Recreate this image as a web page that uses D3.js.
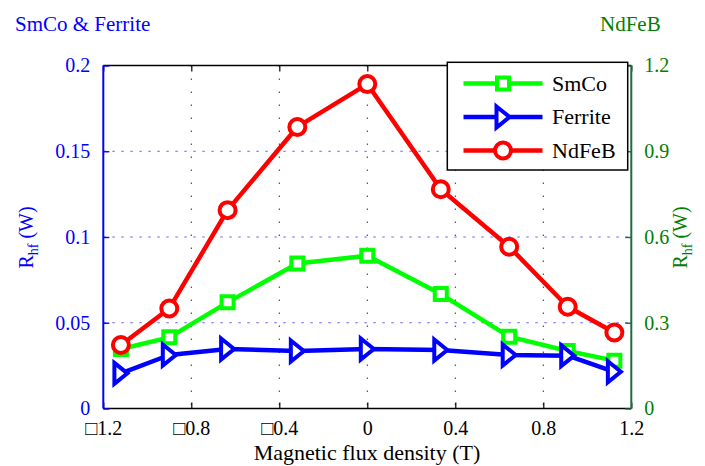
<!DOCTYPE html>
<html>
<head>
<meta charset="utf-8">
<script src="https://cdn.jsdelivr.net/npm/d3@7"></script>
<style>
  html, body { margin: 0; padding: 0; background: #fff; }
  svg text { font-family: "Liberation Serif", "DejaVu Serif", "Times New Roman", serif !important; }
</style>
</head>
<body>
<svg id="chart" width="705" height="466"></svg>
<script>
// Flux density sample points (T)
const fluxDensity = [-1.12, -0.9, -0.635, -0.318, 0, 0.334, 0.645, 0.911, 1.123];
// High-frequency resistance for each magnet type
const smco    = [0.0347, 0.0415, 0.0619, 0.0846, 0.0891, 0.0667, 0.0419, 0.0335, 0.0279];
const ferrite = [0.0205, 0.0312, 0.0347, 0.0335, 0.0347, 0.0341, 0.0312, 0.0308, 0.0214];
const ndfeb   = [0.222, 0.350, 0.694, 0.985, 1.135, 0.767, 0.566, 0.356, 0.266];

const xTicks = [-1.2, -0.8, -0.4, 0, 0.4, 0.8, 1.2];
const xTickLabels = ["\u25A11.2", "\u25A10.8", "\u25A10.4", "0", "0.4", "0.8", "1.2"];
const leftTicks = [0, 0.05, 0.1, 0.15, 0.2];
const leftTickLabels = ["0", "0.05", "0.1", "0.15", "0.2"];
const rightTicks = [0, 0.3, 0.6, 0.9, 1.2];
const rightTickLabels = ["0", "0.3", "0.6", "0.9", "1.2"];

const BLUE = "#0000ff", GREEN = "#008000", LIME = "#00ff00", RED = "#ff0000";

const svg = d3.select("#chart");
const L = 103.3, R = 631.3, T = 65.5, B = 408.5;

const x = d3.scaleLinear().domain([-1.2, 1.2]).range([L, R]);
const yL = d3.scaleLinear().domain([0, 0.2]).range([B, T]);
const yR = d3.scaleLinear().domain([0, 1.2]).range([B, T]);

// grid
const grid = svg.append("g");
grid.selectAll("line.vg").data(xTicks.slice(1, -1)).join("line")
  .attr("x1", d => x(d)).attr("x2", d => x(d)).attr("y1", T).attr("y2", B)
  .attr("stroke", "#000").attr("stroke-opacity", 0.8).attr("stroke-width", 1).attr("stroke-dasharray", "1.5,11.5");
grid.selectAll("line.hg").data(leftTicks.slice(1, -1)).join("line")
  .attr("x1", L).attr("x2", R).attr("y1", d => yL(d)).attr("y2", d => yL(d))
  .attr("stroke", BLUE).attr("stroke-opacity", 0.6).attr("stroke-width", 1).attr("stroke-dasharray", "2.5,6.5");

// frame
svg.append("line").attr("x1", L).attr("x2", R).attr("y1", T).attr("y2", T).attr("stroke", "#000").attr("stroke-width", 1.6);
svg.append("line").attr("x1", L).attr("x2", R).attr("y1", B).attr("y2", B).attr("stroke", "#000").attr("stroke-width", 1.6);

// x axis (inward ticks) bottom and top
const xAxisB = d3.axisBottom(x).tickValues(xTicks).tickSize(-6).tickPadding(12)
  .tickFormat((d, i) => xTickLabels[i]);
const gxb = svg.append("g").attr("transform", `translate(0,${B})`).call(xAxisB);
gxb.select(".domain").remove();
gxb.selectAll(".tick line").attr("stroke", "#000").attr("stroke-width", 1.2);
gxb.selectAll(".tick text").attr("font-size", 20).attr("fill", "#000");

const gxt = svg.append("g").attr("transform", `translate(0,${T})`)
  .call(d3.axisTop(x).tickValues(xTicks).tickSize(-6).tickFormat(""));
gxt.select(".domain").remove();
gxt.selectAll(".tick line").attr("stroke", "#000").attr("stroke-width", 1.2);

// left axis
const gl = svg.append("g").attr("transform", `translate(${L},0)`)
  .call(d3.axisLeft(yL).tickValues(leftTicks).tickSize(-6).tickPadding(13)
    .tickFormat((d, i) => leftTickLabels[i]));
gl.select(".domain").attr("stroke", BLUE).attr("stroke-width", 2).attr("d", `M0,${T}V${B}`);
gl.selectAll(".tick line").attr("stroke", BLUE).attr("stroke-width", 1.4);
gl.selectAll(".tick text").attr("font-size", 20).attr("fill", BLUE);

// right axis
const gr = svg.append("g").attr("transform", `translate(${R},0)`)
  .call(d3.axisRight(yR).tickValues(rightTicks).tickSize(-6).tickPadding(13)
    .tickFormat((d, i) => rightTickLabels[i]));
gr.select(".domain").attr("stroke", "#1f6b3f").attr("stroke-width", 2).attr("d", `M0,${T}V${B}`);
gr.selectAll(".tick line").attr("stroke", "#1f6b3f").attr("stroke-width", 1.4);
gr.selectAll(".tick text").attr("font-size", 20).attr("fill", GREEN);

// axis titles
svg.append("text").attr("x", 367).attr("y", 460).attr("text-anchor", "middle")
  .attr("font-size", 22).text("Magnetic flux density (T)");
svg.append("text").attr("x", 15).attr("y", 31).attr("font-size", 21).attr("fill", BLUE).text("SmCo & Ferrite");
svg.append("text").attr("x", 600).attr("y", 31).attr("font-size", 21).attr("fill", GREEN).text("NdFeB");

function yLabel(cx, cy, color) {
  const t = svg.append("text").attr("transform", `translate(${cx},${cy}) rotate(-90)`)
    .attr("text-anchor", "middle").attr("font-size", 20).attr("fill", color);
  t.append("tspan").text("R");
  t.append("tspan").attr("font-size", 14).attr("dy", 5).text("hf");
  t.append("tspan").attr("dy", -5).text(" (W)");
}
yLabel(33, 237.5, BLUE);
yLabel(687, 237.5, GREEN);

// markers
const squarePath = s => `M${-s/2},${-s/2}H${s/2}V${s/2}H${-s/2}Z`;
const triPath = (w, h) => `M${-w/2},${-h/2}L${w/2},0L${-w/2},${h/2}Z`;

function series(values, yScale, color, marker) {
  const pts = fluxDensity.map((fx, i) => [x(fx), yScale(values[i])]);
  const g = svg.append("g");
  g.append("path").attr("d", d3.line()(pts)).attr("fill", "none")
    .attr("stroke", color).attr("stroke-width", 4.5).attr("stroke-linejoin", "round");
  drawMarkers(g, pts, color, marker);
}
function drawMarkers(g, pts, color, marker) {
  pts.forEach(([px, py]) => {
    if (marker === "circle") {
      g.append("circle").attr("cx", px).attr("cy", py).attr("r", 8)
        .attr("fill", "#fff").attr("stroke", color).attr("stroke-width", 4);
    } else if (marker === "square") {
      g.append("path").attr("d", squarePath(12)).attr("transform", `translate(${px},${py})`)
        .attr("fill", "#fff").attr("stroke", color).attr("stroke-width", 4);
    } else {
      g.append("path").attr("d", triPath(13, 21)).attr("transform", `translate(${px},${py})`)
        .attr("fill", "#fff").attr("stroke", color).attr("stroke-width", 4).attr("stroke-linejoin", "miter");
    }
  });
}

series(smco, yL, LIME, "square");
series(ferrite, yL, BLUE, "triangle");
series(ndfeb, yR, RED, "circle");

// legend
const legendItems = [
  { name: "SmCo", color: LIME, marker: "square" },
  { name: "Ferrite", color: BLUE, marker: "triangle" },
  { name: "NdFeB", color: RED, marker: "circle" }
];
const lg = svg.append("g");
lg.append("rect").attr("x", 447.3).attr("y", 62.3).attr("width", 180.4).attr("height", 107.7)
  .attr("fill", "#fff").attr("stroke", "#000").attr("stroke-width", 1.5);
legendItems.forEach((it, i) => {
  const ly = 83.5 + i * 33.5;
  lg.append("line").attr("x1", 463.5).attr("x2", 542.5).attr("y1", ly).attr("y2", ly)
    .attr("stroke", it.color).attr("stroke-width", 4.5);
  drawMarkers(lg, [[503, ly]], it.color, it.marker);
  lg.append("text").attr("x", 552).attr("y", ly + 7).attr("font-size", 22).text(it.name);
});
</script>
</body>
</html>
